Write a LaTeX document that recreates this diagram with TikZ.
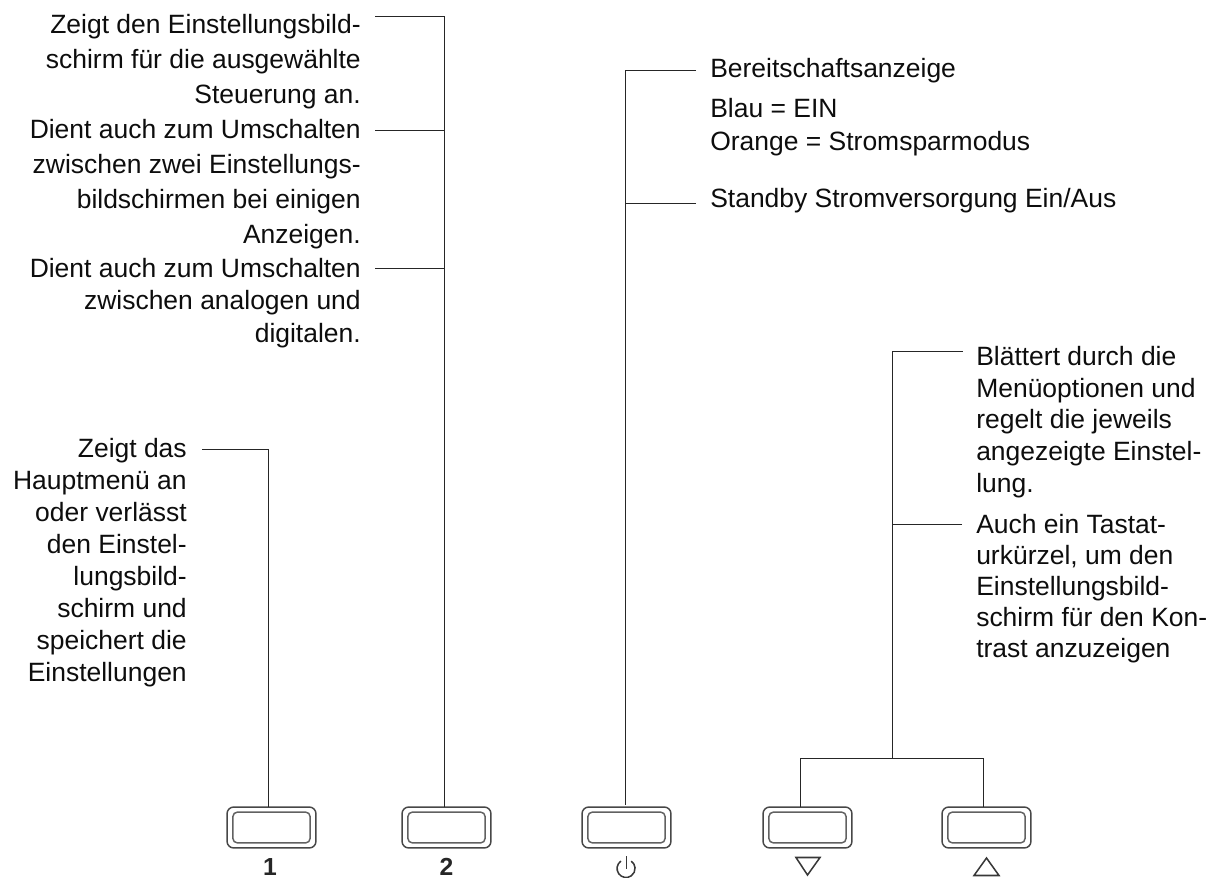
\documentclass[tikz,border=0pt]{standalone}
\usepackage{fontspec}
\setmainfont{Liberation Sans}
\begin{document}
\begin{tikzpicture}[x=0.75pt,y=-0.75pt,
  lbl/.style={inner sep=0pt,font=\fontsize{19.85pt}{#1}\selectfont,text=black!95},
  lblr/.style={lbl=#1,align=right,anchor=north east},
  lbll/.style={lbl=#1,align=left,anchor=north west},
  keyo/.style={draw=black!72,line width=1.1pt,rounded corners=5pt,minimum width=66.7pt,minimum height=30.7pt,inner sep=0pt},
  keyi/.style={draw=black!62,line width=1.1pt,rounded corners=3.5pt,minimum width=58pt,minimum height=23.2pt,inner sep=0pt},
  lead/.style={draw=black!85,line width=0.75pt},
  num/.style={inner sep=0pt,anchor=base,font=\fontsize{18.5pt}{18.5pt}\selectfont\bfseries,text=black!85},
  sym/.style={draw=black!78,line width=1.15pt}]
\useasboundingbox (0,0) rectangle (1218,878);
% keys
\foreach \n/\x in {a/271.5,b/446.5,c/626.5,d/807.5,e/986.5}{
  \node[keyo] (key\n) at (\x,827.5) {};
  \node[keyi] at (\x,827.5) {};
}
\node[num] (n1) at (270,875) {1};
\node[num] (n2) at (446.5,875) {2};
% symbols
\draw[sym] (620.9,861.1) arc[start angle=125,delta angle=290,radius=6.75pt];
\draw[sym] (626.3,856) -- (626.3,869);
\draw[sym,line join=miter] (796,857.5) -- (820,857.5) -- (807.5,875) -- cycle;
\draw[sym,line join=miter] (974,875.5) -- (999,875.5) -- (986.5,858) -- cycle;
% labels
\node[lblr=26.25pt] (t1) at (361,14) {Zeigt den Einstellungsbild-\\schirm für die ausgewählte\\Steuerung an.};
\node[lblr=26.25pt] (t2) at (361,119) {Dient auch zum Umschalten\\zwischen zwei Einstellungs-\\bildschirmen bei einigen\\Anzeigen.};
\node[lblr=24.4pt] (t3) at (361,258) {Dient auch zum Umschalten\\zwischen analogen und\\digitalen.};
\node[lblr=24pt] (t4) at (187,438) {Zeigt das\\Hauptmenü an\\oder verlässt\\den Einstel-\\lungsbild-\\schirm und\\speichert die\\Einstellungen};
\node[lbll=24pt] (t5) at (710,58) {Bereitschaftsanzeige};
\node[lbll=24.75pt] (t6) at (710,98) {Blau = EIN\\Orange = Stromsparmodus};
\node[lbll=24pt] (t7) at (710,188) {Standby Stromversorgung Ein/Aus};
\node[lbll=23.8pt] (t8) at (976,346) {Blättert durch die\\Menüoptionen und\\regelt die jeweils\\angezeigte Einstel-\\lung.};
\node[lbll=23.3pt] (t9) at (976,514) {Auch ein Tastat-\\urkürzel, um den\\Einstellungsbild-\\schirm für den Kon-\\trast anzuzeigen};
% leader junctions
\coordinate (j1) at (444,16);
\coordinate (j2) at (444,130.3);
\coordinate (j3) at (444,268.7);
\coordinate (j4) at (268.5,449);
\coordinate (j5) at (625.7,70.7);
\coordinate (j6) at (625.7,203);
\coordinate (j8) at (892.7,351.7);
\coordinate (j9) at (892.7,524);
\coordinate (s) at (892.7,758);
\coordinate (sl) at (800,758);
\coordinate (sr) at (983,758);
\draw[lead] (375,16) -- (j1) -- (444,807);
\draw[lead] (375,130.3) -- (j2);
\draw[lead] (375,268.7) -- (j3);
\draw[lead] (202,449) -- (j4) -- (268.5,807);
\draw[lead] (696,70.7) -- (j5) -- (625.7,805);
\draw[lead] (696,203) -- (j6);
\draw[lead] (962.7,351.7) -- (j8) -- (s);
\draw[lead] (962,524) -- (j9);
\draw[lead] (800,807) -- (sl) -- (sr) -- (983,807);
\end{tikzpicture}
\end{document}
